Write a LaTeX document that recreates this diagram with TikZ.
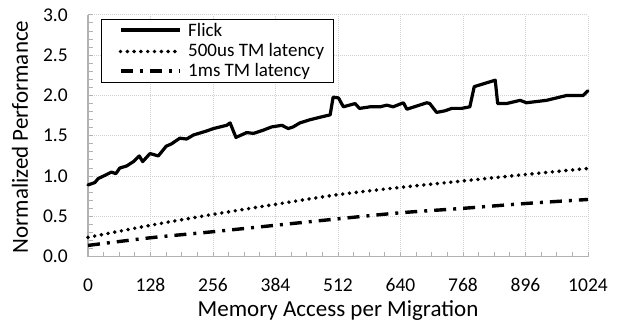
\documentclass[tikz,border=0pt]{standalone}
\usepackage{fontspec}
\setmainfont{Carlito}
\begin{document}
\begin{tikzpicture}[x=1pt,y=1pt,
  gridline/.style={draw=black!18,line width=0.8pt,dash pattern=on 1pt off 1pt},
  axisline/.style={draw=black!30,line width=1.3pt},
  tickmark/.style={draw=black!30,line width=1pt},
  ticklab/.style={font=\fontsize{19.5}{20}\selectfont,inner sep=0pt},
  axtitle/.style={font=\fontsize{23}{25}\selectfont,inner sep=0pt},
  legtext/.style={font=\fontsize{19}{20}\selectfont,inner sep=0pt,anchor=west},
  flickline/.style={line width=3.2pt,line join=round,line cap=round},
  tmfive/.style={line width=3.9pt,line cap=round,dash pattern=on 0pt off 6.8pt},
  tmone/.style={line width=3.4pt,line cap=butt,dash pattern=on 12pt off 7pt on 3pt off 7pt}]
\useasboundingbox (0,0) rectangle (618,322);

% plot area in data units
\begin{scope}[shift={(88,65.3)},x=0.48828pt,y=80.6pt]
  % major grid
  \foreach \v in {0.5,1.0,1.5,2.0,2.5,3.0}
    \draw[gridline] (0,\v) -- (1024,\v);
  \foreach \u in {128,256,...,1024}
    \draw[gridline] (\u,0) -- (\u,3);
  % minor ticks
  \foreach \v in {0.1,0.2,...,3.01}
    \draw[tickmark] (0,\v) -- ++(5pt,0);
  \foreach \u in {32,64,...,1024}
    \draw[tickmark] (\u,0) -- ++(0,5pt);
  % axes
  \draw[axisline] (0,3) -- (0,0) -- (1024,0);
  % tick labels
  \foreach \v in {0.0,0.5,1.0,1.5,2.0,2.5,3.0}
    \node[ticklab,anchor=east] (yl\v) at ([xshift=-20pt]0,\v) {\v};
  \foreach \u in {0,128,...,1024}
    \node[ticklab] (xl\u) at ([yshift=-28.5pt]\u,0) {\u};

  % 1ms TM latency
  \draw[tmone] plot[smooth] coordinates {(0,0.14) (128,0.235) (256,0.31) (384,0.39)
    (512,0.47) (640,0.545) (768,0.60) (896,0.66) (1024,0.71)};
  % 500us TM latency
  \draw[tmfive] plot[smooth] coordinates {(0,0.24) (128,0.39) (256,0.525) (384,0.65)
    (512,0.77) (640,0.86) (768,0.94) (896,1.02) (1024,1.095)};
  % Flick
  \draw[flickline] plot coordinates {(0,0.89) (14,0.92) (21,0.97) (35,1.01) (48,1.05)
    (57,1.03) (65,1.10) (79,1.125) (93,1.18) (105,1.25) (112,1.18) (127,1.28)
    (144,1.25) (160,1.37) (171,1.40) (188,1.47) (202,1.46) (216,1.51) (243,1.56)
    (257,1.59) (277,1.62) (284,1.63) (291,1.66) (303,1.48) (325,1.54) (339,1.53)
    (359,1.57) (376,1.61) (397,1.63) (410,1.59) (420,1.61) (434,1.66) (455,1.70)
    (475,1.73) (496,1.76) (502,1.98) (513,1.97) (523,1.86) (547,1.90) (556,1.84)
    (578,1.86) (598,1.86) (612,1.88) (625,1.86) (646,1.91) (653,1.83) (694,1.91)
    (700,1.90) (714,1.79) (731,1.81) (745,1.84) (765,1.84) (782,1.86) (791,2.11)
    (834,2.19) (839,1.90) (857,1.90) (885,1.94) (898,1.91) (939,1.94) (980,2.00)
    (1014,2.00) (1024,2.06)};
\end{scope}

% axis titles
\node[axtitle] (xtitle) at (338,11.5) {Memory Access per Migration};
\node[axtitle,rotate=90] (ytitle) at (20,185) {Normalized Performance};

% legend
\node[draw=black,line width=1pt,fill=white,minimum width=231.6pt,minimum height=63.4pt,
  inner sep=0pt] (legend) at (217.5,271) {};
\coordinate (la1) at (120.5,292); \coordinate (lb1) at (180,292);
\coordinate (la2) at (120.5,270.5); \coordinate (lb2) at (180,270.5);
\coordinate (la3) at (120.5,251); \coordinate (lb3) at (180,251);
\draw[flickline,line cap=butt] (la1) -- (lb1);
\draw[tmfive] (la2) -- (lb2);
\draw[tmone] (la3) -- (lb3);
\node[legtext] (lt1) at (188,292) {Flick};
\node[legtext] (lt2) at (188,270.5) {500us TM latency};
\node[legtext] (lt3) at (188,251) {1ms TM latency};
\end{tikzpicture}
\end{document}
